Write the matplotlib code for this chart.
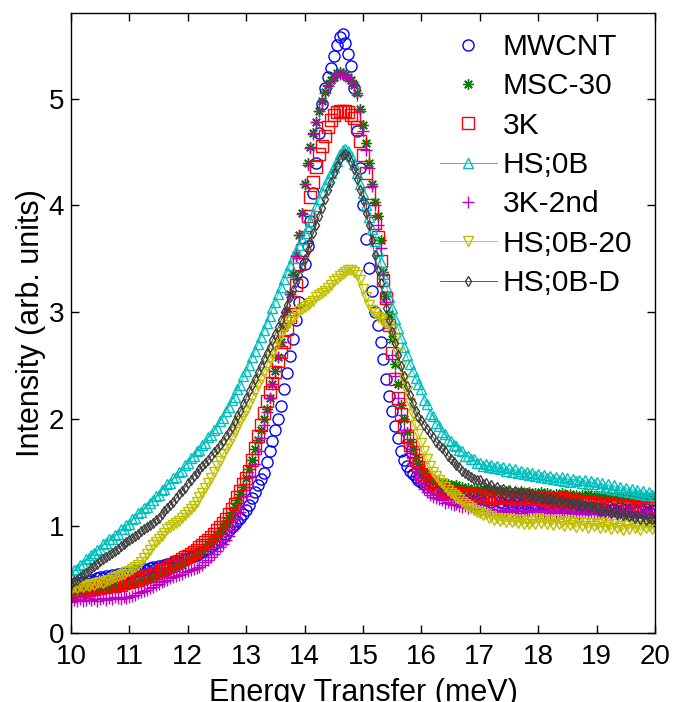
import numpy as np
import matplotlib
matplotlib.use('Agg')
import matplotlib.pyplot as plt

plt.rcParams['font.family'] = ['Liberation Sans', 'DejaVu Sans']

# energy grid (meV), 0.05 steps from 10 to 20
energy = np.round(np.linspace(10, 20, 201), 2)

mwcnt = [
    0.44, 0.46, 0.45, 0.47, 0.48, 0.47, 0.49, 0.50, 0.49, 0.51, 0.52, 0.51, 0.53, 0.52, 0.54, 0.53, 0.55, 0.54, 0.56, 0.55,
    0.57, 0.56, 0.58, 0.59, 0.58, 0.60, 0.59, 0.61, 0.62, 0.61, 0.63, 0.62, 0.64, 0.65, 0.64, 0.66, 0.67, 0.66, 0.68, 0.69,
    0.70, 0.71, 0.72, 0.73, 0.75, 0.76, 0.78, 0.79, 0.81, 0.83, 0.85, 0.87, 0.90, 0.93, 0.96, 0.99, 1.02, 1.05, 1.08, 1.11,
    1.15, 1.20, 1.26, 1.32, 1.38, 1.44, 1.50, 1.60, 1.70, 1.80, 1.90, 2.00, 2.12, 2.28, 2.43, 2.59, 2.75, 2.93, 3.10, 3.28,
    3.45, 3.62, 3.85, 4.12, 4.40, 4.68, 4.95, 5.10, 5.20, 5.29, 5.40, 5.50, 5.58, 5.60, 5.52, 5.42, 5.30, 5.10, 4.70, 4.35,
    4.00, 3.69, 3.41, 3.20, 3.00, 2.88, 2.72, 2.56, 2.38, 2.22, 2.08, 1.94, 1.82, 1.70, 1.62, 1.56, 1.52, 1.49, 1.46, 1.43,
    1.41, 1.39, 1.37, 1.38, 1.36, 1.35, 1.34, 1.35, 1.33, 1.32, 1.31, 1.32, 1.30, 1.29, 1.30, 1.28, 1.29, 1.27, 1.28, 1.26,
    1.25, 1.26, 1.24, 1.25, 1.23, 1.24, 1.25, 1.23, 1.22, 1.24, 1.23, 1.21, 1.23, 1.22, 1.20, 1.22, 1.21, 1.23, 1.20, 1.21,
    1.20, 1.22, 1.19, 1.21, 1.20, 1.18, 1.20, 1.19, 1.21, 1.18, 1.19, 1.17, 1.19, 1.18, 1.20, 1.17, 1.18, 1.16, 1.18, 1.17,
    1.17, 1.15, 1.17, 1.16, 1.18, 1.15, 1.16, 1.14, 1.17, 1.15, 1.16, 1.14, 1.16, 1.15, 1.13, 1.15, 1.14, 1.16, 1.13, 1.15,
    1.14]

msc30 = [
    0.37, 0.39, 0.38, 0.40, 0.38, 0.39, 0.41, 0.40, 0.41, 0.42, 0.41, 0.42, 0.43, 0.42, 0.44, 0.43, 0.44, 0.45, 0.44, 0.46,
    0.46, 0.47, 0.47, 0.48, 0.49, 0.49, 0.50, 0.51, 0.52, 0.53, 0.55, 0.55, 0.57, 0.58, 0.59, 0.60, 0.62, 0.63, 0.64, 0.66,
    0.68, 0.70, 0.72, 0.74, 0.76, 0.78, 0.80, 0.83, 0.86, 0.89, 0.92, 0.95, 0.99, 1.03, 1.08, 1.13, 1.18, 1.24, 1.30, 1.37,
    1.45, 1.53, 1.62, 1.72, 1.81, 1.90, 2.00, 2.10, 2.20, 2.33, 2.45, 2.58, 2.72, 2.86, 3.00, 3.17, 3.36, 3.54, 3.72, 3.93,
    4.20, 4.40, 4.55, 4.68, 4.78, 4.88, 4.98, 5.06, 5.13, 5.17, 5.20, 5.24, 5.25, 5.24, 5.22, 5.20, 5.17, 5.13, 5.05, 4.90,
    4.75, 4.58, 4.40, 4.20, 4.03, 3.90, 3.68, 3.38, 3.15, 2.98, 2.75, 2.52, 2.33, 2.13, 2.00, 1.88, 1.79, 1.72, 1.65, 1.58,
    1.53, 1.50, 1.47, 1.45, 1.43, 1.42, 1.41, 1.40, 1.39, 1.39, 1.38, 1.37, 1.38, 1.36, 1.37, 1.35, 1.36, 1.34, 1.35, 1.34,
    1.34, 1.33, 1.35, 1.33, 1.32, 1.34, 1.32, 1.33, 1.31, 1.33, 1.32, 1.30, 1.32, 1.31, 1.33, 1.30, 1.31, 1.32, 1.30, 1.31,
    1.30, 1.32, 1.29, 1.31, 1.30, 1.28, 1.30, 1.29, 1.31, 1.28, 1.29, 1.30, 1.28, 1.29, 1.27, 1.29, 1.28, 1.30, 1.27, 1.28,
    1.28, 1.27, 1.29, 1.26, 1.28, 1.27, 1.26, 1.28, 1.25, 1.27, 1.26, 1.28, 1.25, 1.27, 1.26, 1.24, 1.26, 1.27, 1.25, 1.26,
    1.25]

k3 = [
    0.38, 0.37, 0.39, 0.40, 0.39, 0.41, 0.40, 0.42, 0.41, 0.43, 0.42, 0.44, 0.43, 0.44, 0.45, 0.44, 0.46, 0.45, 0.47, 0.48,
    0.48, 0.49, 0.50, 0.50, 0.51, 0.52, 0.53, 0.53, 0.54, 0.56, 0.58, 0.59, 0.60, 0.62, 0.63, 0.64, 0.66, 0.67, 0.69, 0.71,
    0.72, 0.74, 0.76, 0.78, 0.80, 0.82, 0.85, 0.87, 0.90, 0.93, 0.96, 0.99, 1.03, 1.07, 1.11, 1.16, 1.21, 1.27, 1.33, 1.39,
    1.45, 1.52, 1.62, 1.73, 1.84, 1.95, 2.06, 2.17, 2.25, 2.34, 2.44, 2.54, 2.63, 2.72, 2.84, 2.96, 3.10, 3.26, 3.45, 3.58,
    3.70, 3.90, 4.08, 4.22, 4.36, 4.48, 4.56, 4.65, 4.73, 4.80, 4.85, 4.87, 4.88, 4.88, 4.88, 4.87, 4.85, 4.82, 4.73, 4.60,
    4.47, 4.30, 4.12, 3.97, 3.84, 3.70, 3.48, 3.30, 3.13, 2.88, 2.62, 2.38, 2.20, 2.05, 1.93, 1.84, 1.76, 1.69, 1.62, 1.55,
    1.49, 1.46, 1.43, 1.41, 1.39, 1.37, 1.36, 1.34, 1.33, 1.32, 1.31, 1.32, 1.30, 1.31, 1.29, 1.30, 1.28, 1.30, 1.29, 1.28,
    1.28, 1.29, 1.27, 1.28, 1.26, 1.28, 1.27, 1.29, 1.26, 1.27, 1.28, 1.26, 1.27, 1.25, 1.27, 1.26, 1.28, 1.25, 1.26, 1.27,
    1.25, 1.26, 1.24, 1.26, 1.25, 1.23, 1.25, 1.24, 1.26, 1.23, 1.24, 1.22, 1.24, 1.23, 1.25, 1.22, 1.23, 1.21, 1.23, 1.22,
    1.22, 1.20, 1.22, 1.21, 1.19, 1.21, 1.20, 1.22, 1.19, 1.20, 1.18, 1.20, 1.19, 1.17, 1.19, 1.18, 1.20, 1.17, 1.18, 1.19,
    1.17]

hs0b = [
    0.54, 0.59, 0.60, 0.64, 0.65, 0.69, 0.70, 0.73, 0.75, 0.78, 0.79, 0.83, 0.84, 0.88, 0.88, 0.92, 0.93, 0.97, 0.97, 1.01,
    1.02, 1.07, 1.08, 1.12, 1.13, 1.17, 1.18, 1.22, 1.24, 1.28, 1.29, 1.34, 1.35, 1.39, 1.40, 1.45, 1.46, 1.51, 1.52, 1.57,
    1.59, 1.64, 1.66, 1.70, 1.71, 1.76, 1.78, 1.83, 1.85, 1.90, 1.92, 1.98, 2.01, 2.08, 2.11, 2.18, 2.21, 2.28, 2.32, 2.40,
    2.45, 2.51, 2.58, 2.64, 2.70, 2.77, 2.83, 2.90, 2.97, 3.04, 3.10, 3.17, 3.24, 3.31, 3.38, 3.44, 3.51, 3.57, 3.63, 3.69,
    3.74, 3.79, 3.85, 3.92, 3.99, 4.06, 4.13, 4.19, 4.25, 4.30, 4.36, 4.42, 4.48, 4.52, 4.53, 4.51, 4.46, 4.39, 4.30, 4.20,
    4.12, 4.00, 3.89, 3.78, 3.67, 3.57, 3.47, 3.36, 3.25, 3.14, 3.04, 2.94, 2.85, 2.76, 2.68, 2.60, 2.52, 2.45, 2.39, 2.33,
    2.28, 2.18, 2.14, 2.05, 2.03, 1.96, 1.94, 1.88, 1.86, 1.81, 1.80, 1.76, 1.75, 1.71, 1.70, 1.66, 1.66, 1.63, 1.63, 1.59,
    1.59, 1.56, 1.58, 1.55, 1.57, 1.54, 1.56, 1.53, 1.55, 1.52, 1.54, 1.51, 1.53, 1.50, 1.52, 1.49, 1.51, 1.48, 1.50, 1.47,
    1.49, 1.46, 1.48, 1.45, 1.47, 1.44, 1.46, 1.43, 1.46, 1.42, 1.45, 1.41, 1.44, 1.42, 1.43, 1.40, 1.43, 1.39, 1.42, 1.39,
    1.41, 1.37, 1.40, 1.36, 1.39, 1.35, 1.38, 1.34, 1.37, 1.33, 1.36, 1.32, 1.35, 1.31, 1.34, 1.30, 1.33, 1.29, 1.32, 1.29,
    1.28]

k3_2nd = [
    0.29, 0.31, 0.30, 0.32, 0.30, 0.31, 0.33, 0.31, 0.32, 0.30, 0.32, 0.33, 0.31, 0.33, 0.32, 0.34, 0.33, 0.32, 0.34, 0.33,
    0.34, 0.35, 0.36, 0.37, 0.38, 0.39, 0.40, 0.42, 0.43, 0.45, 0.46, 0.48, 0.49, 0.50, 0.51, 0.52, 0.53, 0.54, 0.55, 0.57,
    0.58, 0.59, 0.60, 0.61, 0.62, 0.64, 0.66, 0.68, 0.71, 0.74, 0.77, 0.80, 0.83, 0.87, 0.91, 0.96, 1.01, 1.07, 1.13, 1.20,
    1.28, 1.37, 1.47, 1.58, 1.70, 1.82, 1.95, 2.07, 2.20, 2.33, 2.45, 2.58, 2.72, 2.86, 3.00, 3.17, 3.35, 3.53, 3.72, 3.92,
    4.20, 4.38, 4.54, 4.67, 4.78, 4.88, 4.97, 5.05, 5.12, 5.16, 5.20, 5.22, 5.23, 5.22, 5.21, 5.19, 5.16, 5.12, 5.03, 4.88,
    4.70, 4.52, 4.35, 4.18, 4.00, 3.82, 3.60, 3.35, 3.10, 2.85, 2.60, 2.40, 2.20, 2.04, 1.90, 1.78, 1.68, 1.59, 1.52, 1.45,
    1.40, 1.35, 1.32, 1.29, 1.27, 1.26, 1.25, 1.24, 1.22, 1.23, 1.21, 1.20, 1.21, 1.19, 1.18, 1.19, 1.17, 1.18, 1.16, 1.17,
    1.15, 1.16, 1.14, 1.15, 1.16, 1.14, 1.15, 1.13, 1.15, 1.14, 1.16, 1.13, 1.15, 1.14, 1.12, 1.15, 1.13, 1.14, 1.16, 1.13,
    1.14, 1.15, 1.13, 1.14, 1.12, 1.15, 1.13, 1.14, 1.12, 1.13, 1.15, 1.12, 1.14, 1.13, 1.11, 1.13, 1.14, 1.12, 1.13, 1.11,
    1.13, 1.12, 1.14, 1.11, 1.13, 1.12, 1.14, 1.11, 1.12, 1.13, 1.11, 1.13, 1.12, 1.10, 1.12, 1.13, 1.11, 1.12, 1.10, 1.12,
    1.11]

hs0b_20 = [
    0.41, 0.43, 0.42, 0.44, 0.43, 0.45, 0.44, 0.46, 0.45, 0.47, 0.48, 0.47, 0.49, 0.50, 0.51, 0.52, 0.53, 0.54, 0.55, 0.57,
    0.58, 0.60, 0.62, 0.64, 0.66, 0.70, 0.74, 0.78, 0.82, 0.85, 0.88, 0.91, 0.94, 0.97, 0.99, 1.01, 1.03, 1.05, 1.08, 1.10,
    1.13, 1.16, 1.19, 1.23, 1.27, 1.31, 1.36, 1.40, 1.45, 1.51, 1.56, 1.61, 1.67, 1.72, 1.77, 1.82, 1.88, 1.93, 1.98, 2.03,
    2.08, 2.14, 2.20, 2.26, 2.32, 2.38, 2.44, 2.50, 2.56, 2.62, 2.68, 2.74, 2.79, 2.84, 2.88, 2.92, 2.95, 2.98, 3.01, 3.03,
    3.05, 3.07, 3.09, 3.11, 3.14, 3.16, 3.18, 3.20, 3.23, 3.26, 3.29, 3.31, 3.34, 3.36, 3.38, 3.40, 3.40, 3.38, 3.35, 3.30,
    3.22, 3.14, 3.07, 3.02, 2.99, 2.96, 2.94, 2.92, 2.90, 2.87, 2.83, 2.75, 2.62, 2.50, 2.38, 2.26, 2.15, 2.05, 1.95, 1.86,
    1.78, 1.70, 1.63, 1.56, 1.51, 1.47, 1.43, 1.40, 1.37, 1.34, 1.31, 1.29, 1.27, 1.25, 1.23, 1.21, 1.19, 1.17, 1.15, 1.13,
    1.12, 1.10, 1.11, 1.08, 1.09, 1.06, 1.08, 1.05, 1.07, 1.04, 1.07, 1.04, 1.06, 1.03, 1.06, 1.02, 1.05, 1.02, 1.05, 1.02,
    1.07, 1.03, 1.06, 1.02, 1.05, 1.01, 1.06, 1.02, 1.04, 1.00, 1.05, 1.01, 1.03, 0.99, 1.04, 1.00, 1.03, 0.98, 1.03, 1.00,
    1.02, 0.98, 1.03, 0.99, 1.01, 0.97, 1.02, 0.98, 1.00, 0.96, 1.01, 0.97, 1.02, 0.98, 1.00, 0.96, 1.01, 0.98, 1.00, 0.97,
    0.99]

hs0b_d = [
    0.46, 0.49, 0.50, 0.52, 0.54, 0.56, 0.58, 0.61, 0.63, 0.65, 0.67, 0.69, 0.71, 0.73, 0.75, 0.77, 0.79, 0.81, 0.83, 0.85,
    0.87, 0.89, 0.91, 0.93, 0.95, 0.97, 0.99, 1.01, 1.03, 1.06, 1.08, 1.11, 1.14, 1.17, 1.20, 1.23, 1.26, 1.30, 1.33, 1.36,
    1.40, 1.43, 1.47, 1.50, 1.53, 1.56, 1.59, 1.62, 1.66, 1.69, 1.72, 1.76, 1.80, 1.84, 1.88, 1.93, 1.98, 2.03, 2.08, 2.14,
    2.20, 2.26, 2.32, 2.38, 2.44, 2.50, 2.56, 2.62, 2.68, 2.74, 2.80, 2.86, 2.93, 3.00, 3.07, 3.14, 3.21, 3.28, 3.35, 3.42,
    3.50, 3.58, 3.66, 3.74, 3.82, 3.90, 3.98, 4.06, 4.14, 4.22, 4.30, 4.37, 4.43, 4.47, 4.48, 4.46, 4.41, 4.34, 4.25, 4.14,
    4.05, 3.93, 3.82, 3.68, 3.54, 3.40, 3.27, 3.15, 3.04, 2.93, 2.82, 2.71, 2.60, 2.50, 2.40, 2.31, 2.23, 2.15, 2.08, 2.02,
    1.99, 1.95, 1.91, 1.87, 1.83, 1.79, 1.76, 1.73, 1.70, 1.66, 1.63, 1.60, 1.57, 1.55, 1.52, 1.50, 1.48, 1.46, 1.44, 1.43,
    1.43, 1.39, 1.40, 1.37, 1.38, 1.35, 1.37, 1.34, 1.35, 1.32, 1.34, 1.31, 1.33, 1.30, 1.32, 1.29, 1.31, 1.28, 1.30, 1.27,
    1.28, 1.26, 1.27, 1.25, 1.26, 1.24, 1.25, 1.23, 1.24, 1.22, 1.23, 1.21, 1.22, 1.20, 1.21, 1.19, 1.20, 1.18, 1.19, 1.17,
    1.17, 1.15, 1.16, 1.13, 1.15, 1.12, 1.13, 1.11, 1.12, 1.10, 1.11, 1.09, 1.10, 1.08, 1.10, 1.07, 1.09, 1.06, 1.08, 1.07,
    1.07]

labels = ['MWCNT', 'MSC-30', '3K', 'HS;0B', '3K-2nd', 'HS;0B-20', 'HS;0B-D']
series = [mwcnt, msc30, k3, hs0b, k3_2nd, hs0b_20, hs0b_d]
colors = ['#0000ff', '#008000', '#ff0000', '#00bfbf', '#bf00bf', '#bfbf00', '#404040']
markers = ['o', (8, 2, 0), 's', '^', '+', 'v', 'd']
msizes = [8, 7.5, 8, 6.5, 9, 7, 5.5]
lines = ['none', 'none', 'none', '-', 'none', '-', '-']

fig = plt.figure(figsize=(6.73, 7.02), dpi=100)
ax = fig.add_axes([71 / 673, 69 / 702, 584 / 673, 620 / 702])

for y, lab, c, m, ms, ls in zip(series, labels, colors, markers, msizes, lines):
    ax.plot(energy, y, linestyle=ls, linewidth=0.6, color=c, marker=m,
            markersize=ms, markerfacecolor='none', markeredgecolor=c,
            markeredgewidth=1.0, label=lab)

ax.set_xlim(10, 20)
ax.set_ylim(0, 5.8)
ax.set_xticks(np.arange(10, 21, 1))
ax.set_yticks(np.arange(0, 6, 1))
ax.tick_params(direction='in', top=True, right=True, length=6, width=1,
               labelsize=20)
ax.tick_params(axis='x', pad=8)
ax.tick_params(axis='y', pad=5)
for s in ax.spines.values():
    s.set_linewidth(1)

ax.set_xlabel('Energy Transfer (meV)', fontsize=22, labelpad=6)
ax.set_ylabel('Intensity (arb. units)', fontsize=22, labelpad=2)

ax.legend(loc='upper left', bbox_to_anchor=(440 / 673, 1 - 33 / 702),
          bbox_transform=fig.transFigure, frameon=False, fontsize=21.5,
          borderpad=0, borderaxespad=0, handlelength=1.9, handletextpad=0.2,
          labelspacing=0.38, numpoints=1)

fig.savefig('out.png', dpi=100)
